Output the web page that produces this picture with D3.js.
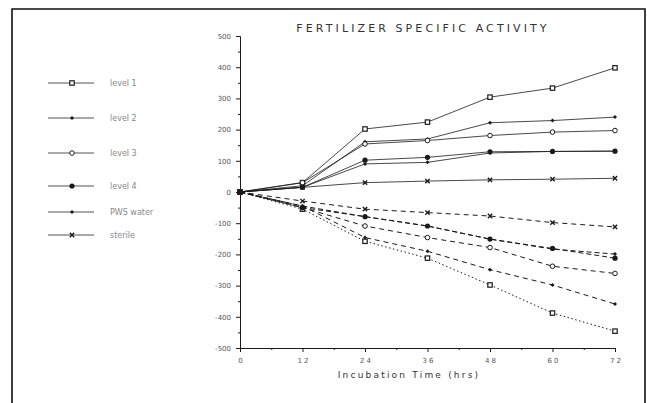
<!DOCTYPE html>
<html>
<head>
    <meta charset="utf-8">
    <script src="https://d3js.org/d3.v7.min.js"></script>
    <style>
        body { margin: 0; background: #fff; }
        text { font-family: "DejaVu Sans", sans-serif; }
    </style>
</head>
<body>
<script>
    // Data
    var hours = [0, 12, 24, 36, 48, 60, 72];
    var hourLabels = ["0", "12", "24", "36", "48", "60", "72"];
    var yTicks = [500, 400, 300, 200, 100, 0, -100, -200, -300, -400, -500];
    var seriesNames = ["level 1", "level 2", "level 3", "level 4", "PWS water", "sterile"];

    // upper (solid) curves
    var level1Up = [0, 30, 202, 224, 304, 333, 398];
    var level2Up = [0, 20, 161, 170, 222, 229, 240];
    var level3Up = [0, 30, 154, 165, 181, 192, 197];
    var level4Up = [0, 15, 102, 111, 129, 130, 131];
    var waterUp = [0, 15, 90, 95, 125, 130, 131];
    var sterileUp = [0, 15, 30, 35, 39, 41, 44];

    // lower (dashed) curves
    var level1Down = [0, -55, -158, -212, -298, -388, -446];
    var level2Down = [0, -45, -146, -190, -249, -298, -359];
    var level3Down = [0, -50, -109, -146, -178, -238, -261];
    var level4Down = [0, -50, -79, -109, -151, -181, -212];
    var waterDown = [0, -45, -79, -109, -151, -183, -199];
    var sterileDown = [0, -29, -55, -66, -77, -98, -112];

    var upSets = [level1Up, level2Up, level3Up, level4Up, waterUp, sterileUp];
    var downSets = [level1Down, level2Down, level3Down, level4Down, waterDown, sterileDown];
    var markers = ["square", "diamond", "circle", "dot", "diamond", "star"];
    var downDash = ["1.5,2.5", "5,4", "5,4", "5,3", "5,3", "5,4"];

    var width = 647, height = 403;
    var svg = d3.select("body").append("svg")
        .attr("width", width).attr("height", height);

    // frame of the scanned page
    svg.append("path")
        .attr("d", "M12,403 L12,9 L645,9 L645,403")
        .attr("fill", "none").attr("stroke", "#111").attr("stroke-width", 1.6);

    var x = d3.scaleLinear().domain([0, 72]).range([240, 615]);
    var y = d3.scaleLinear().domain([-500, 500]).range([348, 36]);

    var ink = "#1a1a1a";

    // y axis
    var yAxis = svg.append("g").attr("transform", "translate(240,0)")
        .call(d3.axisLeft(y).tickValues(yTicks).tickSize(4).tickFormat(String));
    svg.append("g").attr("transform", "translate(240,0)")
        .call(d3.axisLeft(y).tickValues(d3.range(-450, 500, 100)).tickSize(2).tickFormat(""))
        .select(".domain").remove();
    yAxis.selectAll("text").attr("font-size", 7).attr("fill", "#555").attr("x", -9);

    // x axis
    var xAxis = svg.append("g").attr("transform", "translate(0,348)")
        .call(d3.axisBottom(x).tickValues(hours).tickSize(4)
            .tickFormat(function (d, i) { return hourLabels[i].split("").join(" "); }));
    svg.append("g").attr("transform", "translate(0,348)")
        .call(d3.axisBottom(x).tickValues(d3.range(6, 72, 12)).tickSize(2).tickFormat(""))
        .select(".domain").remove();
    xAxis.selectAll("text").attr("font-size", 7).attr("fill", "#555").attr("y", 10);
    svg.selectAll(".domain, .tick line").attr("stroke", ink);

    // titles
    svg.append("text").attr("x", 423).attr("y", 32).attr("text-anchor", "middle")
        .attr("font-size", 11).attr("letter-spacing", 3.1).attr("fill", "#333")
        .text("FERTILIZER SPECIFIC ACTIVITY");
    svg.append("text").attr("x", 409).attr("y", 378).attr("text-anchor", "middle")
        .attr("font-size", 9).attr("letter-spacing", 2.2).attr("fill", "#333")
        .text("Incubation  Time  (hrs)");

    function drawMarker(g, kind, cx, cy) {
        if (kind === "square") {
            g.append("rect").attr("x", cx - 2.2).attr("y", cy - 2.2).attr("width", 4.4).attr("height", 4.4)
                .attr("fill", "#fff").attr("stroke", ink).attr("stroke-width", 1.2);
        } else if (kind === "circle") {
            g.append("circle").attr("cx", cx).attr("cy", cy).attr("r", 2.3)
                .attr("fill", "#fff").attr("stroke", ink).attr("stroke-width", 1);
        } else if (kind === "dot") {
            g.append("circle").attr("cx", cx).attr("cy", cy).attr("r", 2.6)
                .attr("fill", ink);
        } else if (kind === "diamond") {
            g.append("path").attr("transform", "translate(" + cx + "," + cy + ") rotate(45)")
                .attr("d", d3.symbol().type(d3.symbolSquare).size(8)())
                .attr("fill", ink);
        } else {
            g.append("path").attr("transform", "translate(" + cx + "," + cy + ")")
                .attr("d", d3.symbol().type(d3.symbolTimes).size(14)())
                .attr("fill", "none").attr("stroke", ink).attr("stroke-width", 1.4);
        }
    }

    var line = d3.line()
        .x(function (d, i) { return x(hours[i]); })
        .y(function (d) { return y(d); });

    var plot = svg.append("g");
    downSets.forEach(function (vals, k) {
        plot.append("path").datum(vals).attr("d", line)
            .attr("fill", "none").attr("stroke", ink).attr("stroke-width", 1)
            .attr("stroke-dasharray", downDash[k]);
    });
    upSets.forEach(function (vals) {
        plot.append("path").datum(vals).attr("d", line)
            .attr("fill", "none").attr("stroke", ink).attr("stroke-width", 0.8);
    });
    upSets.concat(downSets).forEach(function (vals, k) {
        vals.forEach(function (v, i) {
            drawMarker(plot, markers[k % 6], x(hours[i]), y(v));
        });
    });

    // legend
    var legendY = [83, 118, 153, 186, 212, 235];
    var legend = svg.append("g");
    seriesNames.forEach(function (name, k) {
        var ly = legendY[k];
        legend.append("line").attr("x1", 48).attr("x2", 94).attr("y1", ly).attr("y2", ly)
            .attr("stroke", "#555").attr("stroke-width", 1.2);
        drawMarker(legend, markers[k], 72, ly);
        legend.append("text").attr("x", 110).attr("y", ly + 3)
            .attr("font-size", 8).attr("fill", "#888").text(name);
    });
</script>
</body>
</html>
